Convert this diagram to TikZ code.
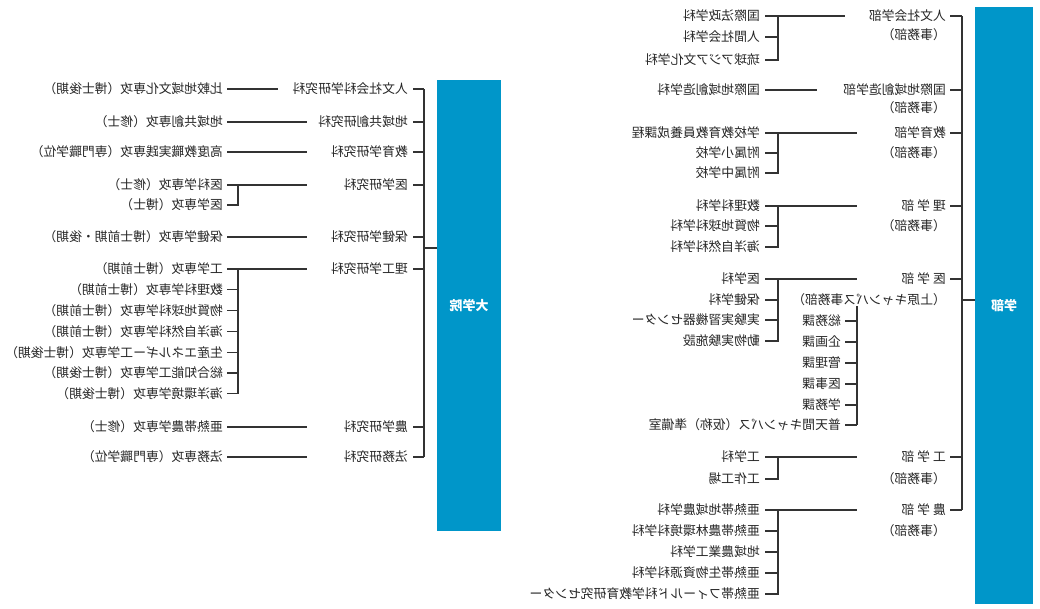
\documentclass[tikz,border=0pt]{standalone}
\usepackage{fontspec}
\newfontfamily\jp{Noto Sans CJK JP}
\definecolor{barblue}{RGB}{0,150,201}
\tikzset{
  txt/.style={xscale=-1, anchor=west, inner sep=0pt, text=black!85,
    font=\jp\fontsize{12.8}{14}\selectfont},
  bar/.style={xscale=-1, fill=barblue, inner sep=0pt, text=white,
    font=\jp\bfseries\fontsize{13}{15}\selectfont},
  ln/.style={line width=1.2pt, draw=black!80}
}
\begin{document}
\begin{tikzpicture}[x=1pt, y=-1pt]
  \useasboundingbox (0,0) rectangle (1040,608);

  % graduate school
  \node[bar, minimum width=64pt, minimum height=451pt] (gs) at (469,305.5) {大学院};
  \coordinate (gtr) at (424,89);
  \coordinate (gj) at (424,248);
  \foreach \n/\y/\t in {1/89/人文社会科学研究科, 2/122/地域共創研究科, 3/152/教育学研究科,
      4/185/医学研究科, 5/237/保健学研究科, 6/269/理工学研究科, 7/427/農学研究科, 8/457/法務研究科}
  {
    \node[txt] (g\n) at (408,\y) {\t};
    \draw[ln] ([xshift=5pt]g\n.west) -- (g\n.west -| gtr);
  }
  \draw[ln] (g1.west -| gtr) -- (g8.west -| gtr);
  \draw[ln] (gj) -- (gj -| gs.east);

  \foreach \n/\y/\t in {1/89/比較地域文化専攻（博士後期）, 2/122/地域共創専攻（修士）,
      3/152/高度教職実践専攻（専門職学位）, 4/185/医科学専攻（修士）, 5/237/保健学専攻（博士前期・後期）,
      6/269/工学専攻（博士前期）, 7/427/亜熱帯農学専攻（修士）, 8/457/法務専攻（専門職学位）}
    \node[txt] (k\n) at (223,\y) {\t};
  \draw[ln] ([xshift=4pt]k1.west) -- ++(51pt,0);
  \foreach \n in {2,...,8}
    \draw[ln] ([xshift=4pt]k\n.west) -- ++(80pt,0);

  \node[txt] (m1) at (223,205) {医学専攻（博士）};
  \draw[ln] ([xshift=4pt]m1.west) -| ([xshift=15pt]k4.west);

  \foreach \n/\y/\t in {1/289.8/数理科学専攻（博士前期）, 2/310.6/物質地球科学専攻（博士前期）,
      3/331.4/海洋自然科学専攻（博士前期）, 4/352.2/生産エネルギー工学専攻（博士後期）,
      5/373/総合知能工学専攻（博士後期）, 6/393.8/海洋環境学専攻（博士後期）}
  {
    \node[txt] (r\n) at (223,\y) {\t};
    \draw[ln] ([xshift=4pt]r\n.west) -- ++(11pt,0);
  }
  \draw[ln] ([xshift=15pt]k6.west) -- ([xshift=15pt]r6.west);

  % faculties
  \node[bar, minimum width=58pt, minimum height=597pt] (us) at (1004,305.5) {学部};
  \coordinate (ftr) at (962,16);
  \coordinate (fj) at (962,300);
  \foreach \n/\y/\t in {1/16/人文社会学部, 2/90/国際地域創造学部, 3/133/教育学部, 4/206/理 学 部,
      5/279/医 学 部, 6/457/工 学 部, 7/510/農 学 部}
  {
    \node[txt] (f\n) at (946,\y) {\t};
    \draw[ln] ([xshift=4pt]f\n.west) -- (f\n.west -| ftr);
  }
  \draw[ln] (f1.west -| ftr) -- (f7.west -| ftr);
  \draw[ln] (fj) -- (fj -| us.east);

  \foreach \n/\y in {1/35, 2/108, 3/153, 4/226, 6/479, 7/531}
    \node[txt] (j\n) at (946,\y) {（事務部）};
  \node[txt] (j5) at (946,300) {（上原キャンパス事務部）};

  % departments
  \foreach \n/\y/\t/\l in {1/16/国際法政学科/80, 2/90/国際地域創造学科/52, 3/133/学校教育教員養成課程/92,
      4/206/数理科学科/92, 5/279/医学科/92, 6/457/工学科/92, 7/510/亜熱帯地域農学科/92}
  {
    \node[txt] (d\n) at (760,\y) {\t};
    \draw[ln] ([xshift=5pt]d\n.west) -- ++(\l pt,0);
  }

  \foreach \p/\n/\y/\t in {1/1/37/人間社会学科, 1/2/60/琉球アジア文化学科,
      3/3/153/附属小学校, 3/4/173/附属中学校,
      4/5/226/物質地球科学科, 4/6/247/海洋自然科学科,
      5/7/300/保健学科, 5/8/320/実験実習機器センター, 5/9/341/動物実験施設,
      6/10/479/工作工場,
      7/11/531/亜熱帯農林環境科学科, 7/12/552/地域農業工学科, 7/13/573/亜熱帯生物資源科学科,
      7/14/594/亜熱帯フィールド科学教育研究センター}
  {
    \node[txt] (s\n) at (760,\y) {\t};
    \draw[ln] ([xshift=5pt]s\n.west) -| ([xshift=18pt]d\p.west);
  }

  % offices
  \foreach \n/\y/\t in {1/321/総務課, 2/342/企画課, 3/363/管理課, 4/384/医事課, 5/405/学務課,
      6/425/普天間キャンパス（仮称）準備室}
  {
    \node[txt] (o\n) at (841,\y) {\t};
    \draw[ln] ([xshift=4pt]o\n.west) -- ++(12pt,0);
  }
  \draw[ln] ([xshift=16pt]o6.west) -- ([xshift=16pt]o6.west |- j5.south);
\end{tikzpicture}
\end{document}
